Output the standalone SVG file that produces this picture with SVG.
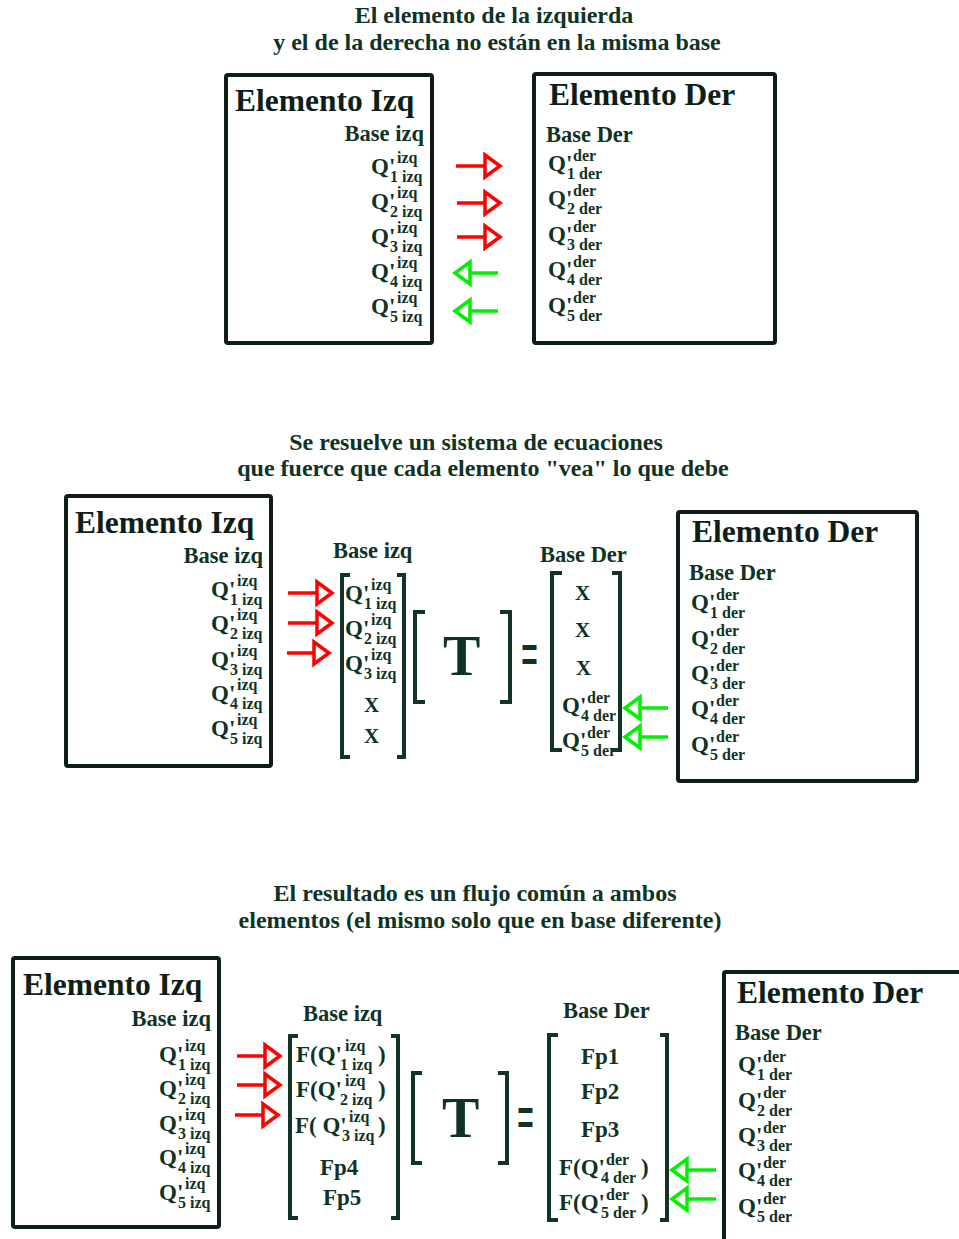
<svg xmlns="http://www.w3.org/2000/svg" width="959" height="1239" viewBox="0 0 959 1239">
<style>
  text { font-family: "Liberation Serif", "Times New Roman", serif; font-weight: bold; fill: #0f3324; }
  .h { font-size: 24px; text-anchor: middle; }
  .ttl { font-size: 31.5px; fill: #0d1f18; }
  .b { font-size: 22.5px; }
  .end { text-anchor: end; }
  .q { font-size: 23px; }
  .s { font-size: 16px; }
  .x { font-size: 21px; }
  .fp { font-size: 23px; }
  .big { font-size: 56px; }
  .eq { font-size: 30px; }
  .box { fill: #fff; stroke: #0f1d17; stroke-width: 4; }
  .br { fill: none; stroke: #123426; stroke-width: 4; stroke-linejoin: miter; }
  .ar { fill: none; stroke: #ff0000; stroke-width: 3.5; marker-end: url(#hr); }
  .ag { fill: none; stroke: #00f000; stroke-width: 3.5; marker-end: url(#hg); }
</style>
<defs>
  <marker id="hr" markerUnits="userSpaceOnUse" markerWidth="26" markerHeight="30" viewBox="-3 -15 26 30" refX="0" refY="0" orient="auto" overflow="visible">
    <path d="M0,-11 L15,0 L0,11 Z" fill="#fff" stroke="#ff0000" stroke-width="3.5"/>
  </marker>
  <marker id="hg" markerUnits="userSpaceOnUse" markerWidth="26" markerHeight="30" viewBox="-3 -15 26 30" refX="0" refY="0" orient="auto" overflow="visible">
    <path d="M0,-11 L15,0 L0,11 Z" fill="#fff" stroke="#00f000" stroke-width="3.5"/>
  </marker>
</defs>
<rect width="959" height="1239" fill="#fff"/>

<!-- ===== Part 1: two elements, different bases ===== -->
<g id="titulo1">
  <text class="h" x="494" y="23">El elemento de la izquierda</text>
  <text class="h" x="497" y="50">y el de la derecha no están en la misma base</text>
</g>

<g id="elemIzq1">
  <rect class="box" x="226" y="75" width="206" height="268" rx="2"/>
  <text class="ttl" x="235" y="111">Elemento Izq</text>
  <text class="b end" x="424" y="141">Base izq</text>
  <text transform="translate(371,174)"><tspan class="q">Q'</tspan><tspan class="s" x="26" y="-11">izq</tspan><tspan class="s" x="19" y="8">1 izq</tspan></text>
  <text transform="translate(371,209)"><tspan class="q">Q'</tspan><tspan class="s" x="26" y="-11">izq</tspan><tspan class="s" x="19" y="8">2 izq</tspan></text>
  <text transform="translate(371,244)"><tspan class="q">Q'</tspan><tspan class="s" x="26" y="-11">izq</tspan><tspan class="s" x="19" y="8">3 izq</tspan></text>
  <text transform="translate(371,279)"><tspan class="q">Q'</tspan><tspan class="s" x="26" y="-11">izq</tspan><tspan class="s" x="19" y="8">4 izq</tspan></text>
  <text transform="translate(371,314)"><tspan class="q">Q'</tspan><tspan class="s" x="26" y="-11">izq</tspan><tspan class="s" x="19" y="8">5 izq</tspan></text>
</g>

<g id="elemDer1">
  <rect class="box" x="534" y="74" width="241" height="269" rx="2"/>
  <text class="ttl" x="549" y="105">Elemento Der</text>
  <text class="b" x="546" y="142">Base Der</text>
  <text transform="translate(548,171)"><tspan class="q">Q'</tspan><tspan class="s" x="25" y="-10">der</tspan><tspan class="s" x="19" y="8">1 der</tspan></text>
  <text transform="translate(548,206)"><tspan class="q">Q'</tspan><tspan class="s" x="25" y="-10">der</tspan><tspan class="s" x="19" y="8">2 der</tspan></text>
  <text transform="translate(548,242)"><tspan class="q">Q'</tspan><tspan class="s" x="25" y="-10">der</tspan><tspan class="s" x="19" y="8">3 der</tspan></text>
  <text transform="translate(548,277)"><tspan class="q">Q'</tspan><tspan class="s" x="25" y="-10">der</tspan><tspan class="s" x="19" y="8">4 der</tspan></text>
  <text transform="translate(548,313)"><tspan class="q">Q'</tspan><tspan class="s" x="25" y="-10">der</tspan><tspan class="s" x="19" y="8">5 der</tspan></text>
</g>

<!-- ===== Part 2: system of equations ===== -->
<g id="titulo2">
  <text class="h" x="476" y="450">Se resuelve un sistema de ecuaciones</text>
  <text class="h" x="483" y="476">que fuerce que cada elemento "vea" lo que debe</text>
</g>

<g id="elemIzq2">
  <rect class="box" x="66" y="496" width="205" height="270" rx="2"/>
  <text class="ttl" x="75" y="533">Elemento Izq</text>
  <text class="b end" x="263" y="563">Base izq</text>
  <text transform="translate(211,597)"><tspan class="q">Q'</tspan><tspan class="s" x="26" y="-11">izq</tspan><tspan class="s" x="19" y="8">1 izq</tspan></text>
  <text transform="translate(211,631)"><tspan class="q">Q'</tspan><tspan class="s" x="26" y="-11">izq</tspan><tspan class="s" x="19" y="8">2 izq</tspan></text>
  <text transform="translate(211,667)"><tspan class="q">Q'</tspan><tspan class="s" x="26" y="-11">izq</tspan><tspan class="s" x="19" y="8">3 izq</tspan></text>
  <text transform="translate(211,701)"><tspan class="q">Q'</tspan><tspan class="s" x="26" y="-11">izq</tspan><tspan class="s" x="19" y="8">4 izq</tspan></text>
  <text transform="translate(211,736)"><tspan class="q">Q'</tspan><tspan class="s" x="26" y="-11">izq</tspan><tspan class="s" x="19" y="8">5 izq</tspan></text>
</g>

<g id="vectorIzq2">
  <text class="b" x="333" y="558">Base izq</text>
  <path class="br" d="M350,575 H342 V757 H350"/>
  <path class="br" d="M397,575 H404 V757 H397"/>
  <text transform="translate(345,601)"><tspan class="q">Q'</tspan><tspan class="s" x="26" y="-11">izq</tspan><tspan class="s" x="19" y="8">1 izq</tspan></text>
  <text transform="translate(345,636)"><tspan class="q">Q'</tspan><tspan class="s" x="26" y="-11">izq</tspan><tspan class="s" x="19" y="8">2 izq</tspan></text>
  <text transform="translate(345,671)"><tspan class="q">Q'</tspan><tspan class="s" x="26" y="-11">izq</tspan><tspan class="s" x="19" y="8">3 izq</tspan></text>
  <text class="x" x="364" y="712">X</text>
  <text class="x" x="364" y="743">X</text>
</g>

<g id="matrizT2">
  <path class="br" d="M425,612 H415 V702 H425"/>
  <path class="br" d="M500,612 H510 V702 H500"/>
  <text class="big" x="443" y="675">T</text>
  <text class="eq" transform="translate(521,678) scale(1,2.4)">=</text>
</g>

<g id="vectorDer2">
  <text class="b" x="540" y="562">Base Der</text>
  <path class="br" d="M562,573 H552 V750 H562"/>
  <path class="br" d="M612,573 H620 V750 H612"/>
  <text class="x" x="575" y="600">X</text>
  <text class="x" x="575" y="637">X</text>
  <text class="x" x="576" y="675">X</text>
  <text transform="translate(562,713)"><tspan class="q">Q'</tspan><tspan class="s" x="25" y="-10">der</tspan><tspan class="s" x="19" y="8">4 der</tspan></text>
  <text transform="translate(562,748)"><tspan class="q">Q'</tspan><tspan class="s" x="25" y="-10">der</tspan><tspan class="s" x="19" y="8">5 der</tspan></text>
</g>

<g id="elemDer2">
  <rect class="box" x="678" y="512" width="239" height="269" rx="2"/>
  <text class="ttl" x="692" y="542">Elemento Der</text>
  <text class="b" x="689" y="580">Base Der</text>
  <text transform="translate(691,610)"><tspan class="q">Q'</tspan><tspan class="s" x="25" y="-10">der</tspan><tspan class="s" x="19" y="8">1 der</tspan></text>
  <text transform="translate(691,646)"><tspan class="q">Q'</tspan><tspan class="s" x="25" y="-10">der</tspan><tspan class="s" x="19" y="8">2 der</tspan></text>
  <text transform="translate(691,681)"><tspan class="q">Q'</tspan><tspan class="s" x="25" y="-10">der</tspan><tspan class="s" x="19" y="8">3 der</tspan></text>
  <text transform="translate(691,716)"><tspan class="q">Q'</tspan><tspan class="s" x="25" y="-10">der</tspan><tspan class="s" x="19" y="8">4 der</tspan></text>
  <text transform="translate(691,752)"><tspan class="q">Q'</tspan><tspan class="s" x="25" y="-10">der</tspan><tspan class="s" x="19" y="8">5 der</tspan></text>
</g>

<!-- ===== Part 3: common flux ===== -->
<g id="titulo3">
  <text class="h" x="475" y="901">El resultado es un flujo común a ambos</text>
  <text class="h" x="480" y="928">elementos (el mismo solo que en base diferente)</text>
</g>

<g id="elemIzq3">
  <rect class="box" x="13" y="958" width="206" height="269" rx="2"/>
  <text class="ttl" x="23" y="995">Elemento Izq</text>
  <text class="b end" x="211" y="1026">Base izq</text>
  <text transform="translate(159,1062)"><tspan class="q">Q'</tspan><tspan class="s" x="26" y="-11">izq</tspan><tspan class="s" x="19" y="8">1 izq</tspan></text>
  <text transform="translate(159,1096)"><tspan class="q">Q'</tspan><tspan class="s" x="26" y="-11">izq</tspan><tspan class="s" x="19" y="8">2 izq</tspan></text>
  <text transform="translate(159,1131)"><tspan class="q">Q'</tspan><tspan class="s" x="26" y="-11">izq</tspan><tspan class="s" x="19" y="8">3 izq</tspan></text>
  <text transform="translate(159,1165)"><tspan class="q">Q'</tspan><tspan class="s" x="26" y="-11">izq</tspan><tspan class="s" x="19" y="8">4 izq</tspan></text>
  <text transform="translate(159,1200)"><tspan class="q">Q'</tspan><tspan class="s" x="26" y="-11">izq</tspan><tspan class="s" x="19" y="8">5 izq</tspan></text>
</g>

<g id="vectorIzq3">
  <text class="b" x="303" y="1021">Base izq</text>
  <path class="br" d="M298,1036 H290 V1218 H298"/>
  <path class="br" d="M391,1036 H398 V1218 H391"/>
  <text transform="translate(296,1062)"><tspan class="q">F(Q'</tspan><tspan class="s" x="49" y="-11">izq</tspan><tspan class="s" x="44" y="8">1 izq</tspan><tspan class="q" x="82" y="0">)</tspan></text>
  <text transform="translate(296,1097)"><tspan class="q">F(Q'</tspan><tspan class="s" x="49" y="-11">izq</tspan><tspan class="s" x="44" y="8">2 izq</tspan><tspan class="q" x="82" y="0">)</tspan></text>
  <text transform="translate(295,1133)"><tspan class="q">F( Q'</tspan><tspan class="s" x="54" y="-11">izq</tspan><tspan class="s" x="47" y="8">3 izq</tspan><tspan class="q" x="83" y="0">)</tspan></text>
  <text class="fp" x="320" y="1175">Fp4</text>
  <text class="fp" x="323" y="1205">Fp5</text>
</g>

<g id="matrizT3">
  <path class="br" d="M422,1073 H413 V1163 H422"/>
  <path class="br" d="M498,1073 H507 V1163 H498"/>
  <text class="big" x="442" y="1137">T</text>
  <text class="eq" transform="translate(517,1141) scale(1,2.4)">=</text>
</g>

<g id="vectorDer3">
  <text class="b" x="563" y="1018">Base Der</text>
  <path class="br" d="M558,1035 H549 V1220 H558"/>
  <path class="br" d="M660,1035 H667 V1220 H660"/>
  <text class="fp" x="581" y="1064">Fp1</text>
  <text class="fp" x="581" y="1099">Fp2</text>
  <text class="fp" x="581" y="1137">Fp3</text>
  <text transform="translate(559,1175)"><tspan class="q">F(Q'</tspan><tspan class="s" x="47" y="-10">der</tspan><tspan class="s" x="42" y="8">4 der</tspan><tspan class="q" x="82" y="0">)</tspan></text>
  <text transform="translate(559,1210)"><tspan class="q">F(Q'</tspan><tspan class="s" x="47" y="-10">der</tspan><tspan class="s" x="42" y="8">5 der</tspan><tspan class="q" x="82" y="0">)</tspan></text>
</g>

<g id="elemDer3">
  <rect class="box" x="724" y="972" width="260" height="300" rx="2"/>
  <text class="ttl" x="737" y="1003">Elemento Der</text>
  <text class="b" x="735" y="1040">Base Der</text>
  <text transform="translate(738,1072)"><tspan class="q">Q'</tspan><tspan class="s" x="25" y="-10">der</tspan><tspan class="s" x="19" y="8">1 der</tspan></text>
  <text transform="translate(738,1108)"><tspan class="q">Q'</tspan><tspan class="s" x="25" y="-10">der</tspan><tspan class="s" x="19" y="8">2 der</tspan></text>
  <text transform="translate(738,1143)"><tspan class="q">Q'</tspan><tspan class="s" x="25" y="-10">der</tspan><tspan class="s" x="19" y="8">3 der</tspan></text>
  <text transform="translate(738,1178)"><tspan class="q">Q'</tspan><tspan class="s" x="25" y="-10">der</tspan><tspan class="s" x="19" y="8">4 der</tspan></text>
  <text transform="translate(738,1214)"><tspan class="q">Q'</tspan><tspan class="s" x="25" y="-10">der</tspan><tspan class="s" x="19" y="8">5 der</tspan></text>
</g>

<!-- ===== Connectors: red = izq to der, green = der to izq ===== -->
<g id="conectores">
  <path class="ar" d="M456,166 H485"/>
  <path class="ar" d="M457,203 H485"/>
  <path class="ar" d="M457,237 H485"/>
  <path class="ag" d="M498,273 H470"/>
  <path class="ag" d="M498,311 H470"/>

  <path class="ar" d="M288,593 H317"/>
  <path class="ar" d="M288,623 H317"/>
  <path class="ar" d="M287,653 H314"/>
  <path class="ag" d="M668,708 H640"/>
  <path class="ag" d="M668,737 H640"/>

  <path class="ar" d="M237,1056 H265"/>
  <path class="ar" d="M237,1085 H265"/>
  <path class="ar" d="M235,1115 H263"/>
  <path class="ag" d="M716,1170 H687"/>
  <path class="ag" d="M716,1199 H687"/>
</g>
</svg>
